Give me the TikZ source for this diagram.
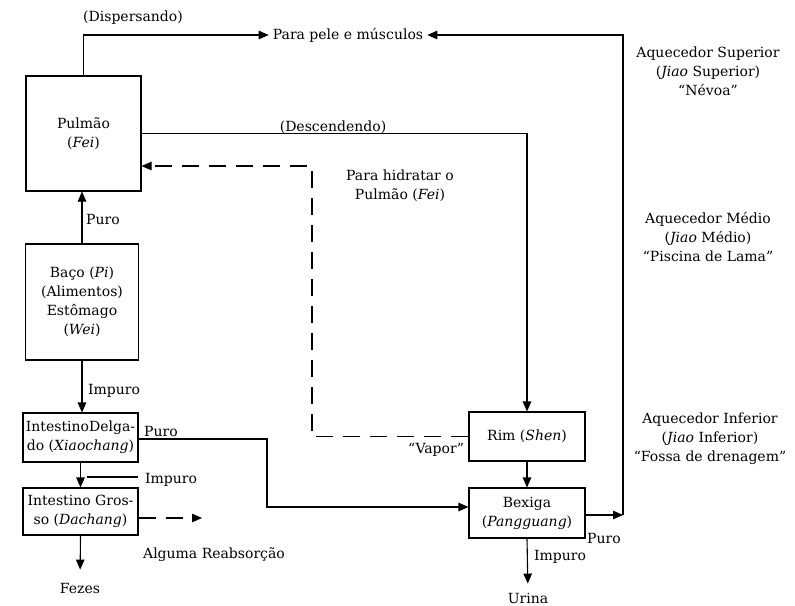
\documentclass[tikz,border=0pt]{standalone}
\usepackage{fontspec}
\setmainfont{DejaVu Serif}
\usetikzlibrary{arrows.meta}
\begin{document}
\begin{tikzpicture}[x=1pt,y=-1pt,
 every node/.style={font=\fontsize{14}{19}\selectfont, inner sep=0pt},
 organ/.style={draw, line width=1.1pt, align=center},
 conn/.style={line width=1.1pt},
 arr/.style={conn, -{Triangle[length=10pt,width=8.5pt]}},
 dsh/.style={arr, dash pattern=on 17pt off 10pt},
 lbl/.style={align=center},
]
\useasboundingbox[fill=white] (0,0) rectangle (795,605);

% organ boxes
\node[organ, minimum width=115pt, minimum height=115pt] (pul) at (83.5,133.5) {Pulmão\\(\textit{Fei})};
\node[organ, minimum width=113pt, minimum height=116pt] (baco) at (82,302) {Baço (\textit{Pi})\\(Alimentos)\\Estômago\\(\textit{Wei})};
\node[organ, minimum width=115pt, minimum height=49pt] (id) at (80.5,437.5) {IntestinoDelga-\\do (\textit{Xiaochang})};
\node[organ, minimum width=115pt, minimum height=47pt] (ig) at (80.5,511.5) {Intestino Gros-\\so (\textit{Dachang})};
\node[organ, minimum width=116pt, minimum height=49pt] (rim) at (527,436.5) {Rim (\textit{Shen})};
\node[organ, minimum width=116pt, minimum height=50pt] (bex) at (527,513) {Bexiga\\(\textit{Pangguang})};

% targets
\node[inner xsep=4pt] (pele) at (348,35) {Para pele e músculos};
\node (fezes) at (80,588) {Fezes};
\node (urina) at (528,598) {Urina};

% labels
\node (disp) at (133,18) {(Dispersando)};
\node (desc) at (333,127) {(Descendendo)};
\node[lbl] (hid) at (400,186) {Para hidratar o\\Pulmão (\textit{Fei})};
\node (puro1) at (103,219) {Puro};
\node (imp1) at (114,391) {Impuro};
\node (puro2) at (161,431) {Puro};
\node (imp2) at (171,480) {Impuro};
\node (reabs) at (214,555) {Alguma Reabsorção};
\node (vapor) at (436,450) {“Vapor”};
\node (imp3) at (560,557) {Impuro};
\node (puro3) at (604,538) {Puro};

\node[lbl] (sup) at (708,71) {Aquecedor Superior\\(\textit{Jiao} Superior)\\“Névoa”};
\node[lbl] (med) at (708,237) {Aquecedor Médio\\(\textit{Jiao} Médio)\\“Piscina de Lama”};
\node[lbl] (inf) at (710,439) {Aquecedor Inferior\\(\textit{Jiao} Inferior)\\“Fossa de drenagem”};

% coordinates
\coordinate (reab) at (202,518);
\coordinate (pb) at (267,439);
\coordinate (cR) at (623,515);
\coordinate (dashC) at (312,166);
\coordinate (il) at (87,477);

% connectors
\draw[arr] (baco.north) -- (baco.north |- pul.south);
\draw[arr] (baco.south) -- (baco.south |- id.north);
\draw[arr] (id.south) -- (ig.north);
\draw[conn] (il) -- ([xshift=-7pt]imp2.west |- il);
\draw[arr, shorten >=13pt] (ig.south) -- (fezes.north);
\draw[dsh] (ig.east |- reab) -- (reab);
\draw[arr] (id.east |- pb) -- (pb) |- ([yshift=6pt]bex.west);
\draw[arr] (pul.north) |- (pele.west);
\draw[arr] (pul.east) -| (rim.north);
\draw[arr] (rim.south) -- (bex.north);
\draw[arr, shorten >=9pt] (bex.south) -- (urina.north);
\draw[arr] (bex.east |- cR) -- (cR);
\draw[arr] (cR) |- (pele.east);
\draw[dsh] (rim.west) -| (dashC) -- (pul.east |- dashC);
\end{tikzpicture}
\end{document}
